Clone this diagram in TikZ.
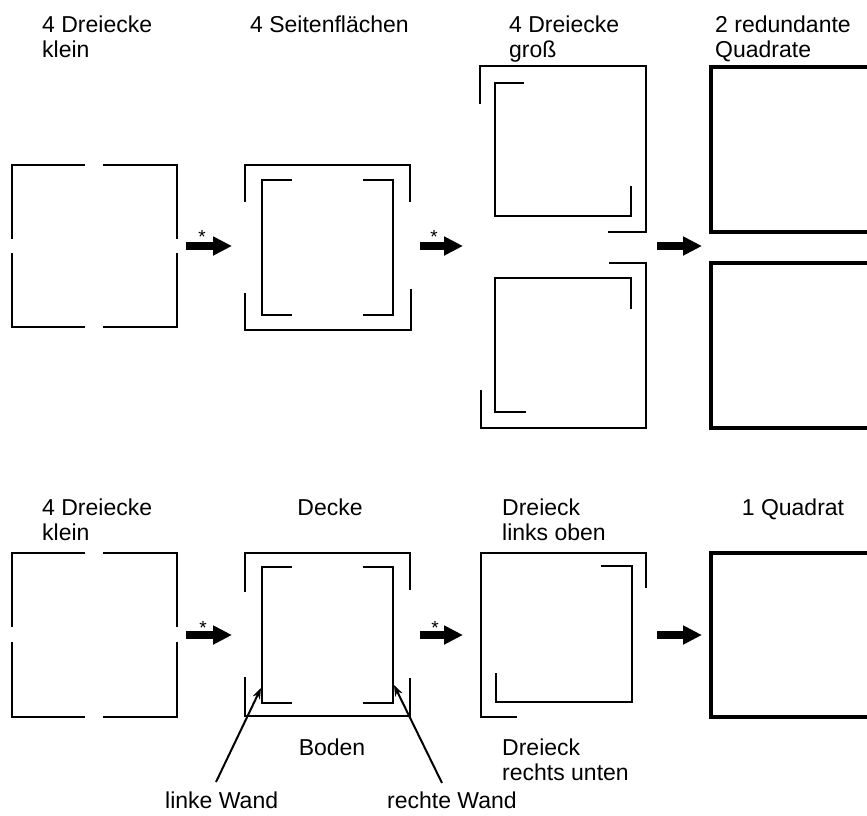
\documentclass[tikz,border=0pt]{standalone}
\usepackage{fontspec}
\setmainfont{Liberation Sans}
\usetikzlibrary{arrows.meta}
\begin{document}
\begin{tikzpicture}[x=1pt,y=-1pt,
  piece/.style={line width=2pt},
  fullsquare/.style={line width=4pt},
  flow/.style={line width=8pt,-{Triangle[length=19pt,width=18pt]}},
  pointer/.style={line width=2pt,-{Stealth[length=11pt,width=8pt]}},
  capt/.style={inner sep=0pt,font=\fontsize{23}{25}\selectfont,align=left,anchor=base west},
  capc/.style={inner sep=0pt,font=\fontsize{23}{25}\selectfont,anchor=base},
  starlbl/.style={inner sep=0pt,font=\fontsize{19}{20}\selectfont,anchor=base}]
\useasboundingbox (0,0) rectangle (867,815);
\clip (0,0) rectangle (867,815);

% ---------- upper row ----------
% two-line captions are anchored at the baseline of their last line
\node[capt] (t1) at (42,57) {4 Dreiecke\\klein};
\node[capt] (t2) at (250,32) {4 Seitenflächen};
\node[capt] (t3) at (509,57) {4 Dreiecke\\groß};
\node[capt] (t4) at (715,57) {2 redundante\\Quadrate};

% four small corner pieces
\draw[piece] (12,239) -- (12,165) -- (85,165);
\draw[piece] (103,165) -- (177,165) -- (177,239);
\draw[piece] (177,253) -- (177,327) -- (103,327);
\draw[piece] (85,327) -- (12,327) -- (12,253);

% four side faces
\draw[piece] (245,202) -- (245,165) -- (410,165) -- (410,202);
\draw[piece] (245,293) -- (245,330) -- (411,330) -- (411,289);
\draw[piece] (292,180) -- (262,180) -- (262,315) -- (292,315);
\draw[piece] (363,180) -- (393,180) -- (393,315) -- (363,315);

% four large corner pieces, first pair
\draw[piece] (480,104) -- (480,66) -- (646,66) -- (646,232) -- (608,232);
\draw[piece] (524,83) -- (495,83) -- (495,216) -- (631,216) -- (631,186);
% second pair
\draw[piece] (609,263) -- (646,263) -- (646,428) -- (481,428) -- (481,390);
\draw[piece] (631,309) -- (631,278) -- (495,278) -- (495,412) -- (526,412);

% two redundant squares
\draw[fullsquare] (711,67) rectangle (895,232);
\draw[fullsquare] (711,263) rectangle (895,428);

% transition arrows
\coordinate (a1s) at (186,246); \coordinate (a1e) at (232,246);
\coordinate (a2s) at (420,246); \coordinate (a2e) at (463,246);
\coordinate (a3s) at (657,246); \coordinate (a3e) at (702,246);
\draw[flow] (a1s) -- (a1e);
\draw[flow] (a2s) -- (a2e);
\draw[flow] (a3s) -- (a3e);
\node[starlbl] (s1) at (202,243) {*};
\node[starlbl] (s2) at (434,243) {*};

% ---------- lower row ----------
\node[capt] (b1) at (42,540) {4 Dreiecke\\klein};
\node[capc] (b2) at (330,515) {Decke};
\node[capt] (b3) at (502,540) {Dreieck\\links oben};
\node[capc] (b4) at (793,515) {1 Quadrat};

% four small corner pieces
\draw[piece] (12,627) -- (12,553) -- (85,553);
\draw[piece] (103,553) -- (177,553) -- (177,627);
\draw[piece] (177,642) -- (177,717) -- (103,717);
\draw[piece] (85,717) -- (12,717) -- (12,642);

% ceiling, floor and the two walls
\draw[piece] (245,592) -- (245,553) -- (410,553) -- (410,590);
\draw[piece] (245,677) -- (245,716) -- (410,716) -- (410,678);
\draw[piece] (292,567) -- (262,567) -- (262,703) -- (292,703);
\draw[piece] (363,567) -- (393,567) -- (393,703) -- (363,703);
\coordinate (lw) at (261,688);
\coordinate (rw) at (394,685);

% upper-left and lower-right triangles
\draw[piece] (517,717) -- (481,717) -- (481,553) -- (646,553) -- (646,588);
\draw[piece] (601,566) -- (632,566) -- (632,702) -- (496,702) -- (496,673);

% single square
\draw[fullsquare] (711,553) rectangle (895,717);

% transition arrows
\coordinate (c1s) at (186,635); \coordinate (c1e) at (232,635);
\coordinate (c2s) at (420,635); \coordinate (c2e) at (463,635);
\coordinate (c3s) at (657,635); \coordinate (c3e) at (702,635);
\draw[flow] (c1s) -- (c1e);
\draw[flow] (c2s) -- (c2e);
\draw[flow] (c3s) -- (c3e);
\node[starlbl] (s3) at (203,634) {*};
\node[starlbl] (s4) at (435,634) {*};

% part names
\node[capc] (boden) at (332,755) {Boden};
\node[capt] (ru) at (502,780) {Dreieck\\rechts unten};
\node[capt] (lwt) at (165,808) {linke Wand};
\node[capt] (rwt) at (387,808) {rechte Wand};
\coordinate (lwp) at (216,782);
\coordinate (rwp) at (442,783);
\draw[pointer] (lwp) -- (lw);
\draw[pointer] (rwp) -- (rw);
\end{tikzpicture}
\end{document}
